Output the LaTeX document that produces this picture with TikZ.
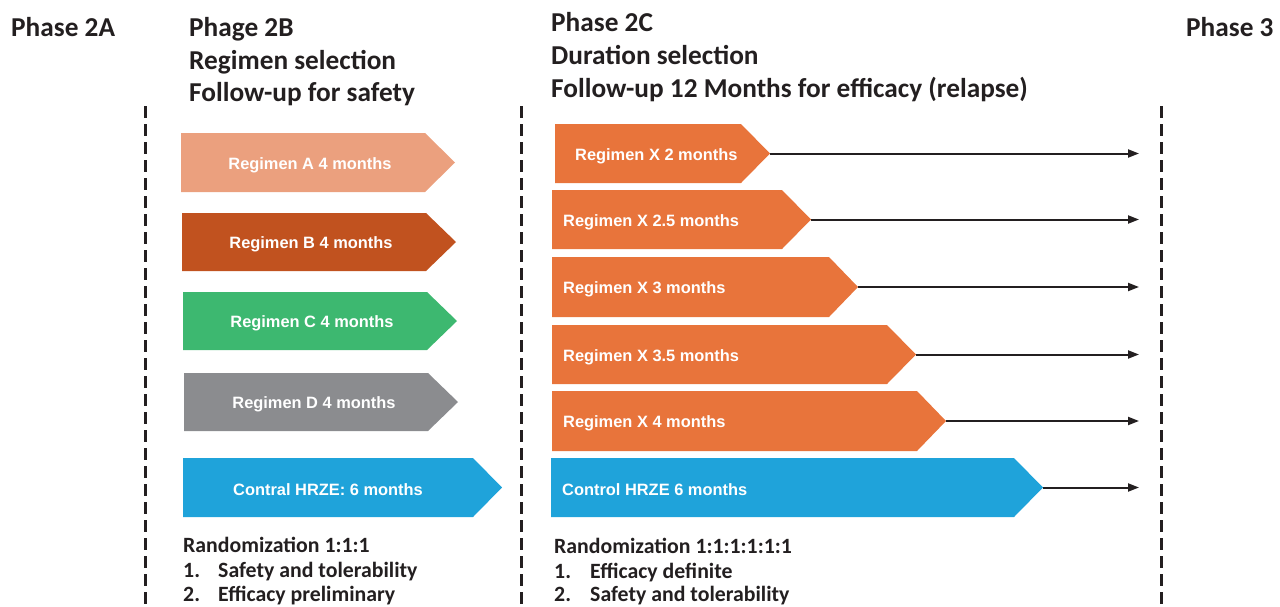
\documentclass[tikz,border=0pt]{standalone}
\usepackage{fontspec}
\setmainfont{Carlito}
\newfontfamily\lblfont{Liberation Sans}
\usetikzlibrary{arrows.meta}

\definecolor{ink}{HTML}{231F20}
\definecolor{regA}{HTML}{EBA07E}
\definecolor{regB}{HTML}{C1521F}
\definecolor{regC}{HTML}{3DB870}
\definecolor{regD}{HTML}{8B8C8F}
\definecolor{ctrl}{HTML}{1FA3DA}
\definecolor{regX}{HTML}{E8743B}

\tikzset{
  title/.style={anchor=base west, inner sep=0pt, text=ink,
    font=\fontsize{27.3}{32}\selectfont\bfseries},
  note/.style={anchor=base west, inner sep=0pt, text=ink,
    font=\fontsize{21.8}{26}\selectfont\bfseries},
  lbl/.style={inner sep=0pt, text=white,
    font=\lblfont\fontsize{16.4}{19}\selectfont\bfseries},
  lblL/.style={lbl, anchor=west},
  phaseline/.style={draw=ink, line width=3pt, dash pattern=on 12pt off 6pt},
  follow/.style={draw=ink, line width=2pt,
    -{Triangle[length=11pt,width=8pt]}},
}

% arm box: #1 colour, #2 left x, #3 top y, #4 bottom y, #5 body end x, #6 tip x
\newcommand\armbox[6]{%
  \fill[#1] (#2,#3) -- (#5,#3) -- (#6,{(#3+#4)/2}) -- (#5,#4) -- (#2,#4) -- cycle;}

\begin{document}
\begin{tikzpicture}[x=1pt,y=-1pt]
\useasboundingbox (0,0) rectangle (1280,606);

% phase headings
\node[title] (p2a) at (11,36) {Phase 2A};
\node[title] (p2b) at (189,36) {Phage 2B};
\node[title] (p2b2) at (189,69) {Regimen selection};
\node[title] (p2b3) at (189,101) {Follow-up for safety};
\node[title] (p2c) at (551,31) {Phase 2C};
\node[title] (p2c2) at (551,64) {Duration selection};
\node[title] (p2c3) at (551,97) {Follow-up 12 Months for efficacy (relapse)};
\node[title] (p3) at (1186,36) {Phase 3};

% phase boundaries
\coordinate (b1t) at (145,106); \coordinate (b1b) at (145,606);
\coordinate (b2t) at (521,106); \coordinate (b2b) at (521,606);
\coordinate (b3t) at (1161,106); \coordinate (b3b) at (1161,606);
\draw[phaseline] (b1t) -- (b1b);
\draw[phaseline] (b2t) -- (b2b);
\draw[phaseline] (b3t) -- (b3b);

% Phase 2B arms
\armbox{regA}{181}{133}{192}{425}{455}
\armbox{regB}{182}{213}{271}{426}{456}
\armbox{regC}{183}{292}{350}{427}{457}
\armbox{regD}{184}{373}{431}{428}{458}
\armbox{ctrl}{183}{458}{517}{473}{502}
\node[lbl] (la) at (310,165) {Regimen A 4 months};
\node[lbl] (lb) at (311,244) {Regimen B 4 months};
\node[lbl] (lc) at (312,323) {Regimen C 4 months};
\node[lbl] (ld) at (314,404) {Regimen D 4 months};
\node[lbl] (lh) at (328,490) {Contral HRZE: 6 months};

% Phase 2C arms
\armbox{regX}{555}{124}{183}{741}{770}
\armbox{regX}{552}{190}{249}{782}{811}
\armbox{regX}{552}{257}{317}{829}{858}
\armbox{regX}{552}{325}{384}{887}{916}
\armbox{regX}{552}{391}{451}{917}{946}
\armbox{ctrl}{551}{458}{517}{1014}{1043}
\node[lblL] (x1) at (575,156) {Regimen X 2 months};
\node[lblL] (x2) at (563,222) {Regimen X 2.5 months};
\node[lblL] (x3) at (563,289) {Regimen X 3 months};
\node[lblL] (x4) at (563,357) {Regimen X 3.5 months};
\node[lblL] (x5) at (563,423) {Regimen X 4 months};
\node[lblL] (x6) at (562,490) {Control HRZE 6 months};

% follow-up lines to Phase 3
\foreach \n/\tx/\ty in {t1/770/153.5, t2/811/219.5, t3/858/287,
                         t4/916/354.5, t5/946/421, t6/1043/487.5}{
  \coordinate (\n s) at (\tx,\ty);
  \coordinate (\n e) at (1139,\ty);
  \draw[follow] (\n s) -- (\n e);
}

% notes under Phase 2B
\node[note] (r1) at (183,552) {Randomization 1:1:1};
\node[note] (r1n1) at (183,577) {1.};
\node[note] (r1i1) at (218,577) {Safety and tolerability};
\node[note] (r1n2) at (183,601) {2.};
\node[note] (r1i2) at (218,601) {Efficacy preliminary};

% notes under Phase 2C
\node[note] (r2) at (554,553) {Randomization 1:1:1:1:1:1};
\node[note] (r2n1) at (554,578) {1.};
\node[note] (r2i1) at (590,578) {Efficacy definite};
\node[note] (r2n2) at (554,601) {2.};
\node[note] (r2i2) at (590,601) {Safety and tolerability};
\end{tikzpicture}
\end{document}
